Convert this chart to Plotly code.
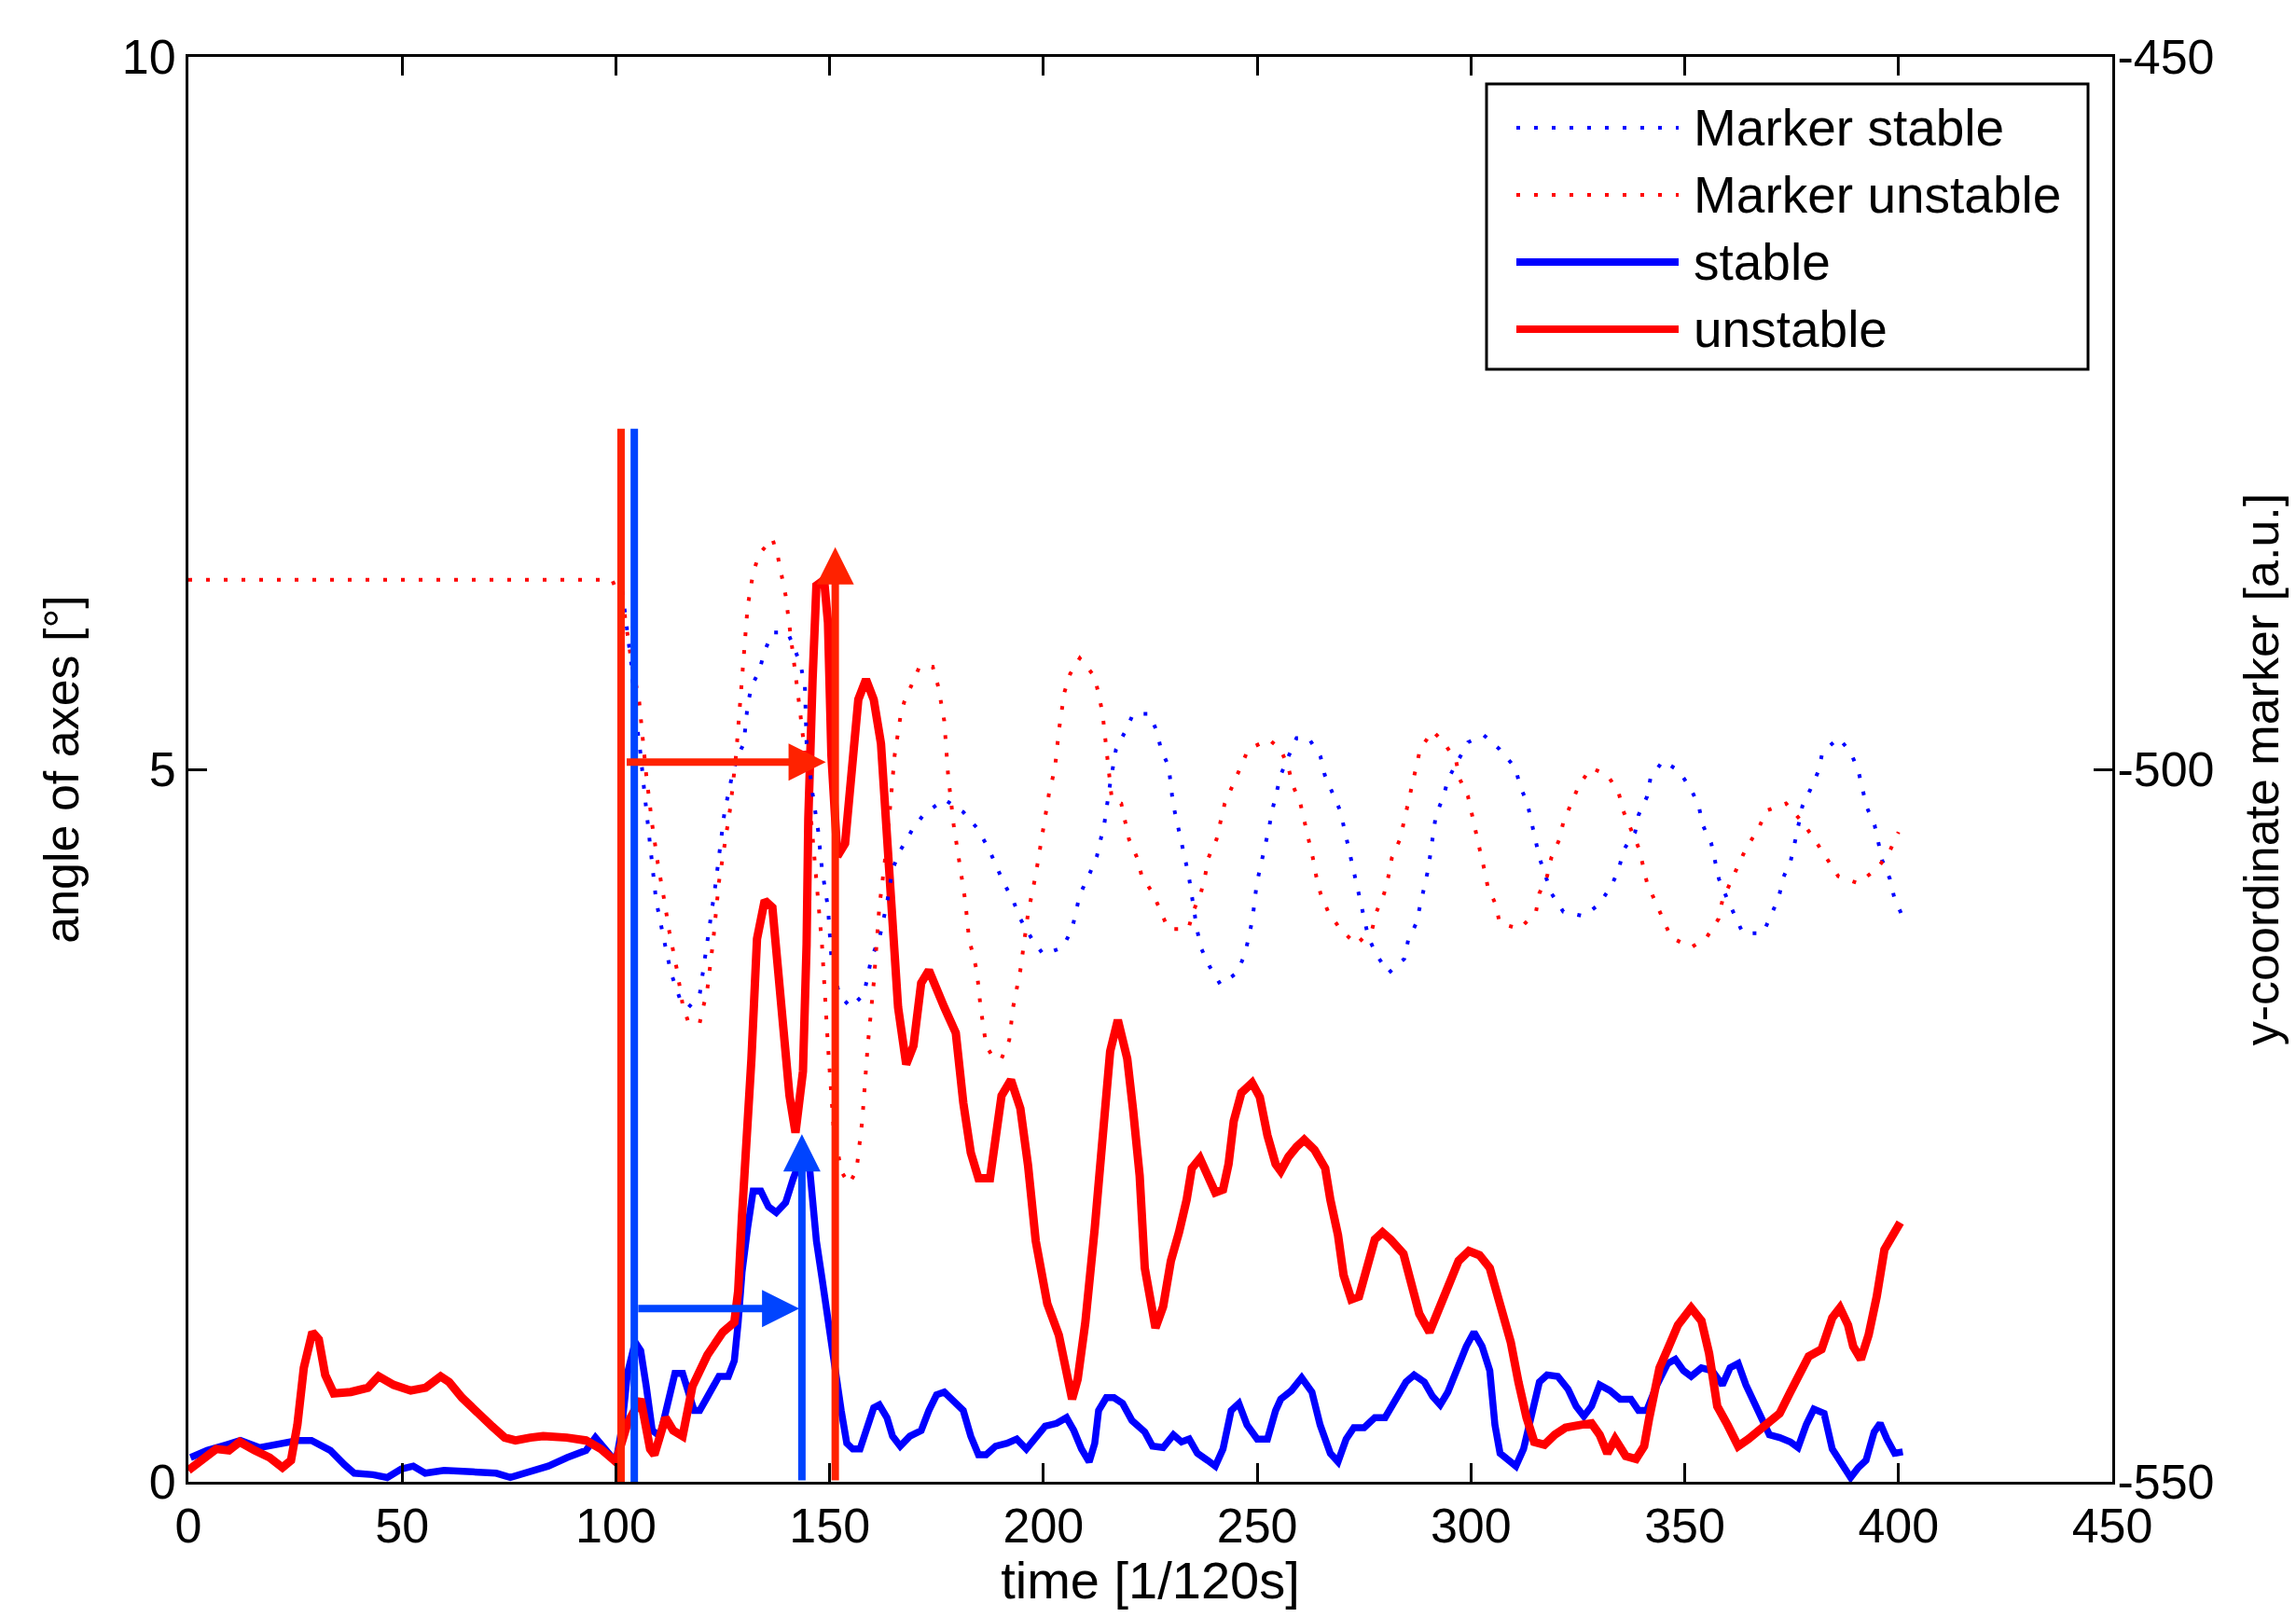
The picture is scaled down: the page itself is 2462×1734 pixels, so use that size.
import plotly.graph_objects as go

# ---------------- data ----------------
x_tick_vals = [0, 50, 100, 150, 200, 250, 300, 350, 400, 450]
x_tick_labels = ["0", "50", "100", "150", "200", "250", "300", "350", "400", "450"]
left_tick_vals = [0, 5, 10]
left_tick_labels = ["0", "5", "10"]
right_tick_vals = [-550, -500, -450]
right_tick_labels = ["-550", "-500", "-450"]

series_names = ["Marker stable", "Marker unstable", "stable", "unstable"]

unstable_t = [0, 3, 6.5, 9.5, 12, 15.5, 19, 22, 24, 25.5, 27, 29, 30.5, 32, 34, 38, 42, 44.5, 48, 52,
              55.5, 59, 61, 64, 67.5, 71, 74, 76.5, 80, 83, 88.5, 93, 96.5, 100, 102.7, 105.8, 108, 109,
              111.6, 113.4, 115.6, 117.9, 121.4, 125, 127.7, 128.6, 129.5, 130.8, 131.7, 133, 134.8,
              136.6, 138.4, 139.7, 140.6, 142, 143.75, 144.6, 145, 146, 146.9, 148.7, 149.6, 150.4,
              151.8, 153.6, 155, 156.7, 158.5, 160.3, 162, 163.4, 164.7, 166, 167.9, 169.6, 171.4,
              173.2, 176.8, 179.5, 181.25, 183, 184.8, 187.5, 190.2, 192.4, 194.6, 196.4, 198.2,
              200.9, 203.6, 205.4, 206.7, 208, 209.8, 212, 213.8, 215.6, 217.4, 219.6, 221, 222.5,
              223.7, 224.9, 226.2, 228, 229.8, 231.7, 233.5, 234.7, 236.6, 238.4, 240.2, 242, 243.3,
              244.5, 246.3, 248.8, 250.6, 252.4, 254.3, 255.5, 257.3, 259.2, 261, 263.4, 265.9,
              267.1, 268.9, 270.2, 272, 273.8, 275.7, 277.5, 279.3, 281.2, 284.2, 286.1, 287.9,
              290.3, 292.2, 294.6, 297.1, 299.5, 302, 304.4, 306.9, 309.3, 311.1, 313, 314.8, 317.2,
              319.6, 322.1, 325.8, 328.2, 330.1, 331.9, 333.7, 336.2, 338.6, 340.5, 341.7, 342.9,
              344.1, 346, 348.4, 351.5, 353.9, 355.7, 357.6, 360, 362.5, 364.9, 368.6, 372.2, 374.7,
              377.1, 379, 382, 384.5, 386.3, 388.2, 389.4, 391.2, 393, 394.9, 396.7, 398.5, 400.4]
unstable_angle = [0.08, 0.15, 0.23, 0.22, 0.28, 0.22, 0.17, 0.10, 0.15, 0.4, 0.8, 1.05, 1.0, 0.75, 0.62,
                  0.63, 0.66, 0.74, 0.68, 0.64, 0.66, 0.74, 0.70, 0.59, 0.48, 0.39, 0.31, 0.29, 0.31,
                  0.32, 0.31, 0.29, 0.23, 0.14, 0.41, 0.58, 0.23, 0.19, 0.45, 0.36, 0.32, 0.67, 0.89,
                  1.05, 1.12, 1.34, 1.87, 2.44, 2.97, 3.81, 4.08, 4.03, 3.5, 3.1, 2.71, 2.45, 2.88,
                  3.77, 4.65, 5.63, 6.29, 6.33, 6.03, 5.1, 4.39, 4.48, 5.01, 5.49, 5.63, 5.49, 5.18,
                  4.57, 4.03, 3.33, 2.93, 3.06, 3.5, 3.59, 3.33, 3.15, 2.66, 2.31, 2.13, 2.13, 2.71,
                  2.82, 2.62, 2.22, 1.69, 1.25, 1.03, 0.76, 0.58, 0.72, 1.12, 1.78, 2.44, 3.02, 3.24,
                  2.97, 2.6, 2.15, 1.5, 1.28, 1.08, 1.23, 1.55, 1.75, 1.98, 2.2, 2.27, 2.15, 2.03, 2.05,
                  2.23, 2.53, 2.73, 2.8, 2.7, 2.43, 2.23, 2.18, 2.28, 2.35, 2.4, 2.33, 2.2, 1.98, 1.73,
                  1.45, 1.28, 1.3, 1.53, 1.7, 1.75, 1.7, 1.6, 1.4, 1.18, 1.05, 1.18, 1.35, 1.55, 1.62,
                  1.59, 1.5, 1.25, 0.98, 0.7, 0.45, 0.28, 0.26, 0.33, 0.38, 0.4, 0.41, 0.33, 0.2, 0.3,
                  0.18, 0.16, 0.25, 0.45, 0.65, 0.8, 0.93, 1.1, 1.22, 1.13, 0.9, 0.53, 0.4, 0.25, 0.3,
                  0.4, 0.48, 0.63, 0.78, 0.88, 0.93, 1.15, 1.22, 1.1, 0.95, 0.86, 1.03, 1.3, 1.63, 1.73,
                  1.82]

stable_t = [0.5, 4.4, 8.9, 12.2, 16.6, 21, 25.5, 28.8, 33.2, 36.5, 38.8, 43.2, 46.5, 49.8, 52.6, 55.4,
            59.8, 66.4, 72, 75.3, 79.7, 84.2, 88.6, 93, 95.2, 97.4, 100, 101.3, 102.7, 104.5, 105.8,
            107.1, 108.5, 110.3, 112, 113.8, 115.6, 117, 118.3, 119.6, 121.9, 124.1, 126.3, 127.7,
            128.6, 129.5, 130.8, 132.1, 133.9, 135.7, 137.5, 139.7, 141.5, 143.3, 145.1, 146, 146.9,
            148.2, 149.6, 150.9, 152.7, 154, 155.4, 157.1, 158.9, 160.3, 161.6, 163.4, 164.7, 166.5,
            168.75, 171.4, 173.2, 175, 176.8, 179.5, 181.25, 183, 184.8, 186.6, 188.8, 191.5, 193.75,
            196, 198.2, 200.4, 203.1, 205.4, 207.1, 208.9, 210.7, 212, 212.9, 214.7, 216.5, 218.5,
            220.7, 223.7, 225.5, 228, 230.4, 232.3, 234.1, 236, 238.4, 240.2, 242, 243.9, 245.7,
            247.6, 250, 252.4, 254.3, 255.5, 258, 260.4, 262.8, 264.7, 267.1, 268.9, 270.8, 272.6,
            275, 277.5, 279.9, 282.4, 284.8, 286.7, 289.1, 291, 292.8, 294.6, 296.5, 298.9, 300.7,
            302.6, 304.4, 305.6, 306.8, 308.7, 310.5, 312.3, 314.2, 316, 317.8, 320.3, 322.7, 324.6,
            326.4, 328.2, 330.1, 332.5, 334.9, 337.4, 339.2, 341.1, 343.5, 346, 347.8, 349.7, 351.5,
            353.9, 356.4, 358.8, 360.6, 362.5, 364.3, 366.2, 368, 369.8, 372.2, 374.7, 376.5, 378.4,
            380.2, 382.6, 384.5, 386.9, 388.8, 390.6, 392.4, 394.3, 395.7, 397.3, 399.1, 401]
stable_angle = [0.17, 0.22, 0.26, 0.29, 0.24, 0.27, 0.29, 0.29, 0.22, 0.12, 0.06, 0.05, 0.03, 0.09, 0.11,
                0.06, 0.08, 0.07, 0.06, 0.03, 0.07, 0.11, 0.17, 0.22, 0.31, 0.23, 0.14, 0.36, 0.76,
                0.98, 0.92, 0.67, 0.36, 0.32, 0.54, 0.76, 0.76, 0.63, 0.5, 0.5, 0.63, 0.74, 0.74, 0.85,
                1.12, 1.47, 1.78, 2.04, 2.04, 1.93, 1.89, 1.96, 2.13, 2.27, 2.27, 2.0, 1.69, 1.43, 1.12,
                0.85, 0.5, 0.27, 0.23, 0.23, 0.41, 0.52, 0.54, 0.45, 0.32, 0.25, 0.32, 0.36, 0.5, 0.61,
                0.63, 0.54, 0.5, 0.32, 0.19, 0.19, 0.25, 0.27, 0.3, 0.23, 0.32, 0.39, 0.41, 0.45, 0.36,
                0.23, 0.14, 0.27, 0.5, 0.59, 0.59, 0.55, 0.43, 0.35, 0.25, 0.24, 0.33, 0.28, 0.3, 0.2,
                0.15, 0.11, 0.23, 0.5, 0.55, 0.4, 0.3, 0.3, 0.5, 0.58, 0.64, 0.73, 0.63, 0.4, 0.2,
                0.14, 0.3, 0.38, 0.38, 0.45, 0.45, 0.58, 0.7, 0.75, 0.7, 0.6, 0.54, 0.63, 0.78, 0.95,
                1.05, 0.95, 0.78, 0.4, 0.2, 0.15, 0.11, 0.23, 0.48, 0.7, 0.75, 0.74, 0.65, 0.53, 0.46,
                0.53, 0.68, 0.64, 0.58, 0.58, 0.5, 0.5, 0.68, 0.83, 0.86, 0.78, 0.74, 0.8, 0.78, 0.68,
                0.8, 0.83, 0.68, 0.55, 0.43, 0.33, 0.31, 0.28, 0.24, 0.4, 0.51, 0.48, 0.23, 0.13, 0.03,
                0.1, 0.15, 0.35, 0.41, 0.3, 0.2, 0.21]

marker_unstable_t = [0, 99.1, 101.8, 103.6, 105.4, 106.25, 107.1, 108.5, 109.8, 111.2, 112.5, 114.3,
                     115.6, 117, 119.6, 121.4, 122.8, 124.1, 125.4, 126.8, 128.1, 129.5, 130.8, 132.1,
                     133.5, 136.6, 137.9, 139.7, 141.1, 142.9, 144.6, 146.4, 148.2, 149.6, 150.9,
                     152.7, 154.5, 156.25, 157.6, 158.9, 160.3, 161.6, 163.4, 165.2, 166.5, 167.4,
                     169.2, 171, 174.1, 175.4, 176.8, 177.7, 179, 180.4, 181.7, 182.6, 184.4, 185.3,
                     186.6, 188.4, 190.2, 192, 192.9, 194.6, 196.4, 198.2, 199.6, 201.3, 202.7, 203.6,
                     204.9, 206.25, 208.5, 212, 213.8, 214.7, 216, 218.2, 220, 221.9, 223, 225.6,
                     227.4, 229.2, 233.9, 235, 236.8, 237.8, 238.6, 240.5, 241.4, 242.4, 244.3, 246.1,
                     247.9, 252.7, 255.5, 257.3, 258.3, 260.1, 261, 262, 263, 263.8, 264.8, 266.6,
                     269.4, 273.2, 276.9, 277.9, 279.7, 280.7, 281.5, 283.4, 284.3, 285.3, 286.2,
                     287.1, 288.1, 291, 293.6, 296.5, 297.4, 299.3, 300.2, 301.1, 302.1, 303.1, 303.9,
                     305.8, 306.7, 311.4, 315.2, 316, 317.8, 318.8, 320.7, 321.6, 323.4, 325.3, 328.1,
                     331.9, 334.5, 335.6, 337.4, 339.2, 340.2, 341.2, 343, 344.9, 346.8, 351.5, 355.1,
                     357.9, 358.8, 360.6, 362.6, 364.4, 367.2, 369.1, 373.7, 377.5, 380.3, 383.1,
                     385.9, 390.6, 395.2, 398, 400]
marker_unstable_y = [-486.7, -486.7, -488.6, -492.4, -495.1, -497.7, -500.4, -503.9, -506.6, -509.0,
                     -511.4, -514.1, -516.5, -517.8, -517.8, -515.4, -511.9, -507.9, -505.2, -502.6,
                     -499.0, -493.7, -488.6, -486.2, -484.9, -483.8, -485.1, -487.8, -491.1, -495.5,
                     -499.9, -506.1, -512.3, -519.4, -525.1, -528.2, -529.1, -528.2, -524.7, -519.4,
                     -515.0, -509.7, -505.2, -499.0, -496.4, -495.3, -494.0, -492.8, -492.8, -494.2,
                     -496.6, -500.4, -503.9, -506.8, -509.2, -511.9, -514.1, -516.7, -519.4, -520.3,
                     -520.3, -519.0, -516.7, -514.1, -510.1, -507.4, -504.8, -501.7, -499.9, -497.3,
                     -494.6, -493.3, -492.2, -493.5, -496.0, -498.6, -502.1, -502.4, -504.9, -506.2,
                     -507.5, -508.7, -510.0, -511.2, -511.2, -510.0, -508.7, -507.5, -506.2, -504.9,
                     -503.7, -502.4, -501.1, -499.9, -498.6, -497.9, -498.6, -499.9, -501.1, -502.4,
                     -503.7, -504.9, -506.2, -507.5, -508.7, -510.0, -511.2, -512.3, -511.2, -510.0,
                     -508.7, -507.5, -506.2, -504.9, -503.7, -502.4, -501.1, -499.9, -498.6, -497.3,
                     -498.1, -499.4, -500.7, -501.9, -503.2, -504.4, -505.7, -507.0, -508.2, -509.5,
                     -510.8, -511.2, -510.0, -508.7, -507.5, -506.2, -504.9, -503.7, -502.4, -501.1,
                     -499.9, -500.4, -501.6, -502.9, -504.2, -505.5, -506.7, -508.0, -509.2, -510.5,
                     -511.8, -512.5, -511.8, -510.5, -509.2, -508.0, -506.7, -505.5, -504.2, -502.9,
                     -502.4, -503.7, -504.9, -506.2, -507.5, -508.0, -506.9, -505.7, -504.4]

marker_stable_t = [101.5, 102.7, 103.6, 104.5, 105.8, 106.7, 107.6, 108.5, 109.4, 111.2, 112.9, 115.2,
                   117, 119.6, 121.4, 123.2, 125.4, 127.2, 128.6, 129.9, 130.8, 131.7, 133.5, 134.8,
                   136.6, 140.2, 142, 143.3, 144.2, 144.6, 146, 147.3, 148.2, 149.6, 150.4, 152.2,
                   154.9, 158, 159.8, 161.6, 163.4, 164.7, 166.5, 169.2, 171.9, 176.8, 181.25, 184.4,
                   187.1, 190.6, 192.9, 194.6, 197.3, 200, 204.5, 206.7, 208.5, 210.7, 212.5, 214.3,
                   215.6, 216.96, 219.2, 221, 224.7, 226.5, 227.5, 229.3, 230.3, 231.3, 232.2, 233.1,
                   234, 235.9, 236.8, 238.8, 241.4, 245.2, 247.1, 248, 248.9, 249.9, 250.9, 251.7,
                   252.7, 253.5, 254.5, 255.5, 257.3, 259.2, 262, 264.8, 265.8, 267.6, 269.4, 270.4,
                   271.3, 272.2, 273.2, 274.1, 275, 276, 277.9, 280.7, 284.4, 285.3, 287.2, 288.1,
                   289, 290, 291.8, 293.6, 294.6, 299.3, 303, 306.7, 310.4, 311.4, 313.2, 314.2,
                   315.2, 316, 318.8, 321.6, 326.3, 329.9, 332.8, 334.6, 335.6, 338.4, 339.2, 341.2,
                   342, 344.9, 348.6, 351.5, 353.3, 354.2, 356.2, 357, 358, 359.8, 361.7, 363.6,
                   368.3, 370.1, 372, 372.9, 374.8, 375.7, 376.7, 377.5, 379.4, 381.3, 382.2, 386,
                   388.8, 390.6, 391.6, 392.5, 394.4, 395.3, 396.2, 398, 399, 400.9]
marker_stable_y = [-487.5, -490.2, -492.6, -495.9, -499.0, -501.7, -504.1, -506.8, -509.2, -511.9,
                   -514.3, -516.3, -516.7, -515.8, -512.1, -508.3, -503.0, -500.4, -499.0, -498.2,
                   -495.5, -494.2, -493.1, -491.7, -490.4, -490.4, -491.7, -492.8, -494.2, -498.2,
                   -501.7, -504.3, -507.0, -509.7, -513.2, -515.8, -516.7, -515.8, -513.2, -511.9,
                   -509.4, -507.0, -505.7, -504.3, -503.2, -502.1, -503.0, -504.1, -505.5, -507.9,
                   -509.2, -510.5, -511.9, -513.0, -512.5, -511.2, -508.8, -507.4, -506.1, -503.7,
                   -501.0, -498.6, -497.3, -496.1, -496.1, -497.3, -498.6, -499.8, -502.4, -503.7,
                   -504.9, -506.2, -507.5, -511.2, -512.5, -513.8, -515.1, -514.3, -513.0, -511.8,
                   -510.5, -508.0, -506.7, -505.5, -504.2, -502.9, -501.6, -500.4, -499.1, -497.8,
                   -497.8, -499.1, -500.4, -501.6, -502.9, -504.2, -505.5, -506.7, -508.0, -509.2,
                   -510.5, -511.8, -513.0, -514.3, -513.3, -512.0, -510.8, -509.5, -508.2, -507.0,
                   -503.2, -501.9, -500.7, -498.1, -497.6, -498.6, -499.9, -501.1, -502.4, -503.7,
                   -504.9, -506.2, -508.7, -510.0, -510.3, -509.5, -508.2, -507.0, -505.7, -504.4,
                   -503.2, -501.9, -500.6, -499.4, -500.1, -501.4, -502.6, -503.9, -505.2, -506.4,
                   -507.7, -509.0, -510.3, -511.5, -511.5, -510.3, -509.0, -507.7, -506.4, -505.2,
                   -503.9, -502.6, -501.4, -500.1, -498.8, -497.8, -498.8, -500.1, -501.4, -502.6,
                   -503.9, -505.2, -506.4, -507.7, -509.0, -510.3]

# event markers drawn on the chart (time, angle)
onset_unstable_t = 101.2
onset_stable_t = 104.3
onset_top = 7.39
peak_unstable = (151.3, 6.56)
peak_stable = (143.5, 2.44)
delay_unstable = (102.2, 149.1, 5.05)
delay_stable = (104.9, 142.9, 1.215)

# ---------------- style ----------------
W, H = 2462, 1734
BODY = 8                      # default page margin of the html body
PL, PR, PT, PB = 202, 2265, 61, 1589   # plot area in window pixels
FONT = "Liberation Sans, Arial, sans-serif"
FS = 52
FS_LEG = 55
FS_XT = 56
RED, BLUE = "#FF0000", "#0000FF"
ARED, ABLUE = "#FF2200", "#0044FF"
DOT = "4px,15px"


def px_x(p):
    return (p - PL) / (PR - PL)


def px_y(p):
    return (PB - p) / (PB - PT)


fig = go.Figure()
fig.add_trace(go.Scatter(x=marker_stable_t, y=marker_stable_y, yaxis="y2", mode="lines",
                         name=series_names[0], showlegend=False,
                         line=dict(color=BLUE, width=4, dash=DOT)))
fig.add_trace(go.Scatter(x=marker_unstable_t, y=marker_unstable_y, yaxis="y2", mode="lines",
                         name=series_names[1], showlegend=False,
                         line=dict(color=RED, width=4, dash=DOT)))
fig.add_trace(go.Scatter(x=stable_t, y=stable_angle, mode="lines", name=series_names[2],
                         showlegend=False, line=dict(color=BLUE, width=7.5)))
fig.add_trace(go.Scatter(x=unstable_t, y=unstable_angle, mode="lines", name=series_names[3],
                         showlegend=False, line=dict(color=RED, width=9)))

shapes = []
annotations = []
# onset vertical lines
for t, c in [(onset_unstable_t, ARED), (onset_stable_t, ABLUE)]:
    shapes.append(dict(type="line", xref="x", yref="y", x0=t, x1=t, y0=0, y1=onset_top,
                       line=dict(color=c, width=8)))
# arrows
arrow_specs = [
    (peak_unstable[0], 0, peak_unstable[0], peak_unstable[1], ARED),
    (peak_stable[0], 0, peak_stable[0], peak_stable[1], ABLUE),
    (delay_unstable[0], delay_unstable[2], delay_unstable[1], delay_unstable[2], ARED),
    (delay_stable[0], delay_stable[2], delay_stable[1], delay_stable[2], ABLUE),
]
for x0, y0, x1, y1, c in arrow_specs:
    annotations.append(dict(x=x1, y=y1, ax=x0, ay=y0, xref="x", yref="y", axref="x", ayref="y",
                            text="", showarrow=True, arrowhead=2, arrowsize=1, arrowwidth=8,
                            arrowcolor=c, standoff=0, startstandoff=0))

# legend box (drawn manually to match the long line samples)
leg_left, leg_right, leg_top, leg_bottom = 1594, 2239, 90, 396
shapes.append(dict(type="rect", xref="paper", yref="paper",
                   x0=px_x(leg_left), x1=px_x(leg_right), y0=px_y(leg_bottom), y1=px_y(leg_top),
                   line=dict(color="black", width=3), fillcolor="white", layer="above"))
leg_rows = [137, 209, 281, 353]
leg_styles = [(BLUE, 4, DOT), (RED, 4, DOT), (BLUE, 8, "solid"), (RED, 8, "solid")]
for name, ry, (c, w, d) in zip(series_names, leg_rows, leg_styles):
    shapes.append(dict(type="line", xref="paper", yref="paper", x0=px_x(1626), x1=px_x(1800),
                       y0=px_y(ry), y1=px_y(ry), line=dict(color=c, width=w, dash=d)))
    annotations.append(dict(x=px_x(1814), y=px_y(ry), xref="paper", yref="paper", text=name,
                            showarrow=False, xanchor="left", yanchor="middle",
                            font=dict(family=FONT, size=FS_LEG, color="black")))

axis_common = dict(showgrid=False, zeroline=False, showline=True, linecolor="black", linewidth=3,
                   ticks="inside", ticklen=20, tickwidth=3, tickcolor="black",
                   tickfont=dict(family=FONT, size=FS, color="black"))

fig.update_layout(
    width=W - 2 * BODY, height=H - 2 * BODY,
    margin=dict(l=PL - BODY, r=W - PR - BODY, t=PT - BODY, b=H - PB - BODY, autoexpand=False),
    paper_bgcolor="white", plot_bgcolor="white",
    font=dict(family=FONT, size=FS, color="black"),
    showlegend=False,
    xaxis=dict(range=[0, 450], tickmode="array", tickvals=x_tick_vals, ticktext=x_tick_labels,
               mirror="ticks", title=dict(text="time [1/120s]", standoff=10,
                                          font=dict(family=FONT, size=FS_XT)), **axis_common),
    yaxis=dict(range=[0, 10], tickmode="array", tickvals=left_tick_vals, ticktext=left_tick_labels,
               mirror=True, title=dict(text="angle of axes [°]", standoff=30,
                                       font=dict(family=FONT, size=FS)), **axis_common),
    yaxis2=dict(range=[-550, -450], overlaying="y", side="right", tickmode="array",
                tickvals=right_tick_vals, ticktext=right_tick_labels, ticklabelstandoff=-8,
                title=dict(text="y-coordinate marker [a.u.]", standoff=36,
                           font=dict(family=FONT, size=FS)), **axis_common),
    shapes=shapes,
    annotations=annotations,
)

fig.write_html("out.html")
